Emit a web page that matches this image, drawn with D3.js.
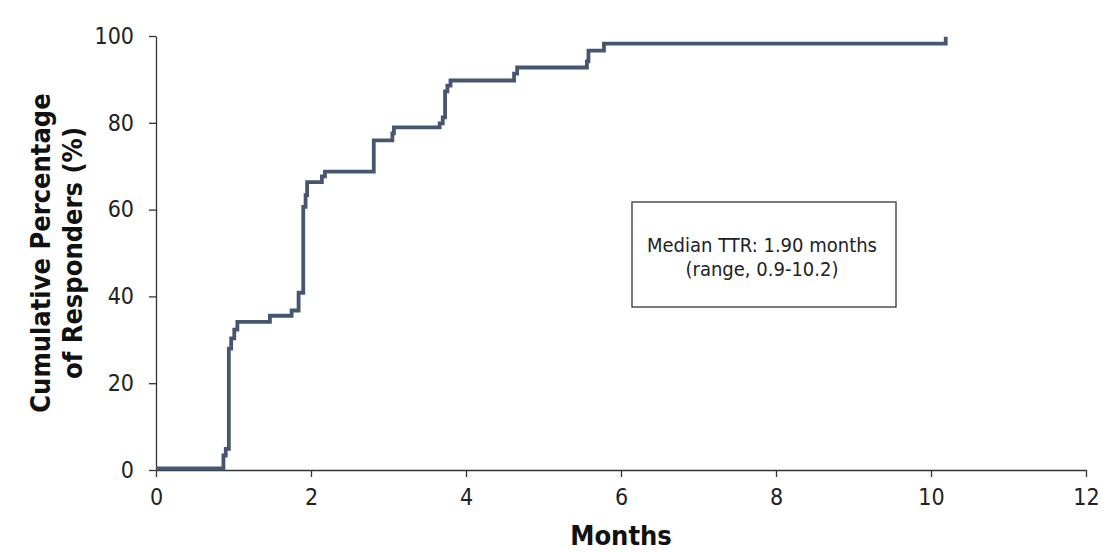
<!DOCTYPE html>
<html>
<head>
<meta charset="utf-8">
<script src="https://cdn.jsdelivr.net/npm/d3@7"></script>
<style>
  body { margin: 0; background: #fff; }
</style>
</head>
<body>
<div id="chart"></div>
<script>
// time to response, step curve
const months = [0, 0.87, 0.9, 0.94, 0.97, 1.01, 1.05, 1.47, 1.75, 1.84, 1.90, 1.93, 1.95, 2.14, 2.18, 2.81, 3.05, 3.07, 3.66, 3.70, 3.73, 3.76, 3.80, 4.62, 4.66, 5.56, 5.58, 5.78, 10.19];
const cumPct = [0, 3, 4.5, 27.6, 30, 32, 33.8, 35.2, 36.4, 40.5, 60.3, 63, 66, 67.3, 68.4, 75.6, 77.2, 78.6, 79.5, 80.9, 86.9, 88.2, 89.4, 91, 92.4, 93.8, 96.3, 97.9, 99.5];
const xTicks = [0, 2, 4, 6, 8, 10, 12];
const yTicks = [0, 20, 40, 60, 80, 100];
const noteLines = ['Median TTR: 1.90 months', '(range, 0.9-10.2)'];

const width = 1119;
const height = 552;
const margin = {top: 36, right: 33, bottom: 82, left: 156};

const lineColor = '#475670';
const axisColor = '#333';
const font = 'DejaVu Sans Condensed, DejaVu Sans, sans-serif';

const svg = d3.select('#chart').append('svg')
  .attr('width', width)
  .attr('height', height);

const x = d3.scaleLinear().domain([0, 12]).range([margin.left, width - margin.right]);
const y = d3.scaleLinear().domain([0, 100]).range([height - margin.bottom, margin.top]);

const xAxis = svg.append('g')
  .attr('transform', `translate(0,${y(0)})`)
  .call(d3.axisBottom(x).tickValues(xTicks).tickSize(7).tickPadding(8).tickSizeOuter(0));

const yAxis = svg.append('g')
  .attr('transform', `translate(${x(0)},0)`)
  .call(d3.axisLeft(y).tickValues(yTicks).tickSize(7).tickPadding(15).tickSizeOuter(0));

[xAxis, yAxis].forEach(g => {
  g.select('.domain').attr('stroke', axisColor).attr('stroke-width', 1.3);
  g.selectAll('.tick line').attr('stroke', axisColor).attr('stroke-width', 1.3);
  g.selectAll('.tick text')
    .attr('font-family', font)
    .attr('font-size', '23px')
    .attr('fill', '#222');
});
xAxis.selectAll('.tick text').attr('dy', '0.85em');

const pts = months.map((m, i) => [m, cumPct[i]]);
const line = d3.line()
  .x(d => x(d[0]))
  .y(d => y(d[1]))
  .curve(d3.curveStepAfter);

svg.append('path')
  .datum(pts)
  .attr('d', line)
  .attr('fill', 'none')
  .attr('stroke', lineColor)
  .attr('stroke-width', 3.8)
  .attr('transform', 'translate(0,-1.5)');

// annotation box
svg.append('rect')
  .attr('x', 632)
  .attr('y', 202)
  .attr('width', 264)
  .attr('height', 105)
  .attr('fill', '#fff')
  .attr('stroke', '#333')
  .attr('stroke-width', 1.3);

svg.append('g').selectAll('text')
  .data(noteLines)
  .join('text')
  .attr('x', 762)
  .attr('y', (d, i) => 252 + i * 24)
  .attr('text-anchor', 'middle')
  .attr('font-family', font)
  .attr('font-size', '20px')
  .attr('fill', '#222')
  .text(d => d);

// axis titles
svg.append('text')
  .attr('x', (x(0) + x(12)) / 2)
  .attr('y', 545)
  .attr('text-anchor', 'middle')
  .attr('font-family', font)
  .attr('font-weight', 'bold')
  .attr('font-size', '27px')
  .attr('fill', '#111')
  .text('Months');

const yTitle = svg.append('text')
  .attr('transform', `translate(50,${(y(0) + y(100)) / 2}) rotate(-90)`)
  .attr('text-anchor', 'middle')
  .attr('font-family', font)
  .attr('font-weight', 'bold')
  .attr('font-size', '27px')
  .attr('fill', '#111');
yTitle.append('tspan').attr('x', 0).attr('dy', 0).text('Cumulative Percentage');
yTitle.append('tspan').attr('x', 0).attr('dy', 32).text('of Responders (%)');
</script>
</body>
</html>
